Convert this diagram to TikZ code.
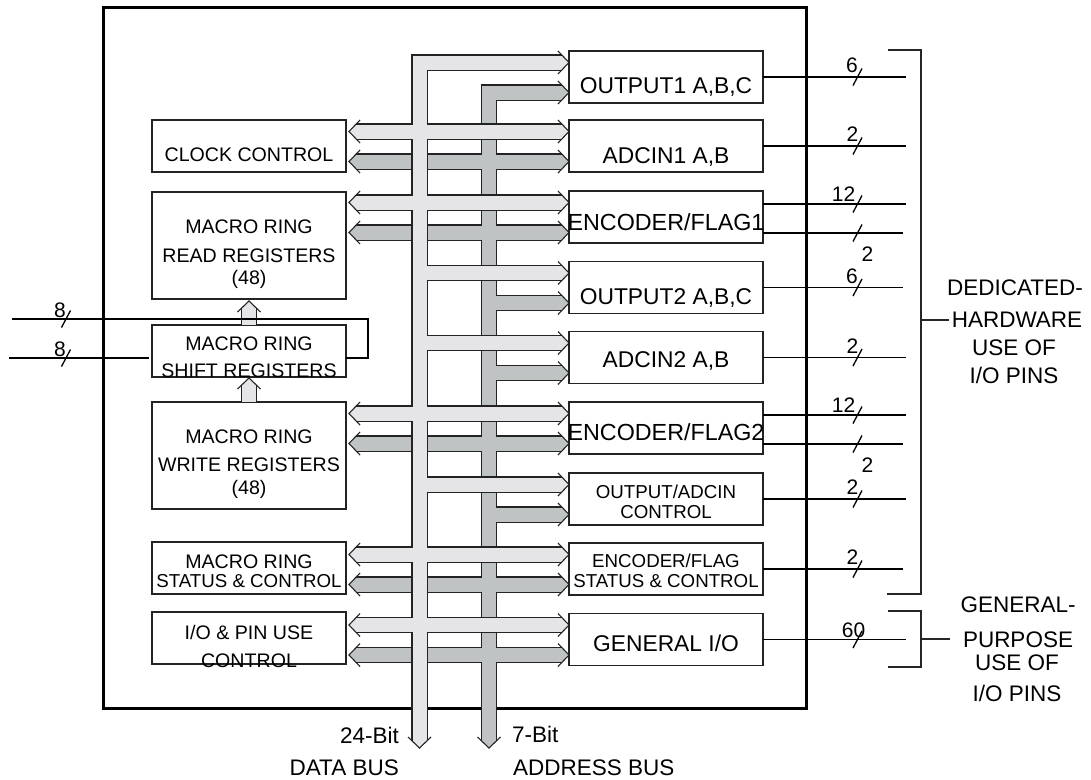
\documentclass[tikz,border=0pt]{standalone}
\usepackage{fontspec}
\setmainfont{Liberation Sans}
\usetikzlibrary{calc}
\definecolor{lightb}{RGB}{229,229,231}
\definecolor{darkb}{RGB}{191,195,195}
\definecolor{edgec}{RGB}{35,35,35}
\newcommand\fs[1]{\fontsize{#1}{#1}\selectfont}
\newcommand\ahead[3]{%
  \begin{scope}[shift={(#1)},#3]
    \fill[#2] (-6.9,-7.1) -- (0,0) -- (-6.9,7.1) -- cycle;
    \draw[headline] (-11,-11.5) -- (0,0) -- (-11,11.5);
  \end{scope}}
\newcommand\wmark[4]{%
  \draw[pinline] ($(#1)+(-4.5,8.5)$) -- ($(#1)+(4.5,-8.5)$);
  \node[num] (#4) at ($(#1)+#3$) {#2};}
\begin{document}
\begin{tikzpicture}[x=1pt,y=-1pt,
  box/.style={draw=edgec, line width=1.6, minimum width=194, minimum height=52, inner sep=0, outer sep=0},
  tallbox/.style={box, minimum height=107},
  frame/.style={draw=black, line width=3, minimum width=703, minimum height=701, inner sep=0, outer sep=0},
  lbl/.style={anchor=base, inner sep=0, font=\fs{19.6}},
  rlbl/.style={anchor=base, inner sep=0, font=\fs{22.8}},
  slbl/.style={anchor=base, inner sep=0, font=\fs{18.7}},
  num/.style={inner sep=0, font=\fs{21}},
  side/.style={anchor=base, inner sep=0, font=\fs{22.5}},
  lightbus/.style={draw=lightb, line width=14, line cap=butt, line join=miter,
     preaction={draw=edgec, line width=16.4, line cap=butt, line join=miter}},
  darkbus/.style={draw=darkb, line width=14, line cap=butt, line join=miter,
     preaction={draw=edgec, line width=16.4, line cap=butt, line join=miter}},
  headline/.style={draw=edgec, line width=1.1, line join=miter},
  pinline/.style={draw=black, line width=1.3},
  brk/.style={draw=black!85, line width=1.1}
]
\useasboundingbox (0,0) rectangle (1091,779);

% chip outline
\node[frame] (chip) at (454.5,357.5) {};

% right boxes
\node[box] (o1) at (666,77) {};
\node[box] (a1) at (666,146) {};
\node[box] (e1) at (666,217) {};
\node[box] (o2) at (666,287.5) {};
\node[box] (a2) at (666,357.5) {};
\node[box] (e2) at (666,428) {};
\node[box] (oc) at (666,499) {};
\node[box] (es) at (666,569) {};
\node[box] (gio) at (666,639.5) {};

% left boxes
\node[box] (clk) at (249,146) {};
\node[tallbox] (rd) at (249,245.5) {};
\node[box] (sh) at (249,351) {};
\node[tallbox] (wr) at (249,455.5) {};
\node[box] (mst) at (249,568) {};
\node[box] (iop) at (249,638) {};

% bus coordinates
\coordinate (dbus) at (419.5,748);
\coordinate (abus) at (489,748);
\foreach \n in {o1,a1,e1,o2,a2,e2,oc,es,gio}{
  \coordinate (\n L) at ($(\n.north west)+(0,11.5)$);
  \coordinate (\n D) at ($(\n.north west)+(0,41.5)$);
}
\foreach \l/\r in {clk/a1,rd/e1,wr/e2,mst/es,iop/gio}{
  \path (\l.east |- \r L) coordinate (\r Lx) (\l.east |- \r D) coordinate (\r Dx);
  \coordinate (\r Ll) at ($(\r Lx)+(3,0)$);
  \coordinate (\r Dl) at ($(\r Dx)+(3,0)$);
}

% address bus (dark)
\draw[darkbus]
  ($(abus)+(0,-6.9)$) -- (abus |- o1D) -- ($(o1D)+(-6.9,0)$)
  (abus |- o2D) -- ($(o2D)+(-6.9,0)$)
  (abus |- a2D) -- ($(a2D)+(-6.9,0)$)
  (abus |- ocD) -- ($(ocD)+(-6.9,0)$)
  ($(a1Dl)+(6.9,0)$) -- ($(a1D)+(-6.9,0)$)
  ($(e1Dl)+(6.9,0)$) -- ($(e1D)+(-6.9,0)$)
  ($(e2Dl)+(6.9,0)$) -- ($(e2D)+(-6.9,0)$)
  ($(esDl)+(6.9,0)$) -- ($(esD)+(-6.9,0)$)
  ($(gioDl)+(6.9,0)$) -- ($(gioD)+(-6.9,0)$);

% data bus (light)
\draw[lightbus]
  ($(dbus)+(0,-6.9)$) -- (dbus |- o1L) -- ($(o1L)+(-6.9,0)$)
  (dbus |- o2L) -- ($(o2L)+(-6.9,0)$)
  (dbus |- a2L) -- ($(a2L)+(-6.9,0)$)
  (dbus |- ocL) -- ($(ocL)+(-6.9,0)$)
  ($(a1Ll)+(6.9,0)$) -- ($(a1L)+(-6.9,0)$)
  ($(e1Ll)+(6.9,0)$) -- ($(e1L)+(-6.9,0)$)
  ($(e2Ll)+(6.9,0)$) -- ($(e2L)+(-6.9,0)$)
  ($(esLl)+(6.9,0)$) -- ($(esL)+(-6.9,0)$)
  ($(gioLl)+(6.9,0)$) -- ($(gioL)+(-6.9,0)$);

% arrow heads
\foreach \n in {o1,a1,e1,o2,a2,e2,oc,es,gio}{\ahead{\n L}{lightb}{}\ahead{\n D}{darkb}{}}
\foreach \r in {a1,e1,e2,es,gio}{\ahead{\r Ll}{lightb}{xscale=-1}\ahead{\r Dl}{darkb}{xscale=-1}}
\ahead{dbus}{lightb}{rotate=-90}
\ahead{abus}{darkb}{rotate=-90}

% small vertical arrows between left boxes
\coordinate (up1) at ($(rd.south)+(0,2)$);
\coordinate (up2) at ($(sh.south)+(0,1)$);
\draw[lightbus] (sh.north) -- ($(up1)+(0,6.9)$);
\draw[lightbus] (wr.north) -- ($(up2)+(0,6.9)$);
\ahead{up1}{lightb}{rotate=90}
\ahead{up2}{lightb}{rotate=90}

% left box texts
\node[lbl] (tclk) at (249,161) {CLOCK CONTROL};
\node[lbl] (trd1) at (249,233) {MACRO RING};
\node[lbl] (trd2) at (249,262) {READ REGISTERS};
\node[lbl] (trd3) at (249,284) {(48)};
\node[lbl] (tsh1) at (249,350) {MACRO RING};
\node[lbl] (tsh2) at (249,377) {SHIFT REGISTERS};
\node[lbl] (twr1) at (249,443) {MACRO RING};
\node[lbl] (twr2) at (249,471) {WRITE REGISTERS};
\node[lbl] (twr3) at (249,494) {(48)};
\node[lbl] (tms1) at (249,568) {MACRO RING};
\node[slbl] (tms2) at (249,587) {STATUS \& CONTROL};
\node[lbl] (tio1) at (249,639) {I/O \& PIN USE};
\node[lbl] (tio2) at (249,667) {CONTROL};

% right box texts
\node[rlbl] (to1) at (666,93) {OUTPUT1 A,B,C};
\node[rlbl] (ta1) at (666,163) {ADCIN1 A,B};
\node[rlbl, font=\fs{23.3}] (te1) at (666,230) {ENCODER/FLAG1};
\node[rlbl] (to2) at (666,304) {OUTPUT2 A,B,C};
\node[rlbl] (ta2) at (666,367) {ADCIN2 A,B};
\node[rlbl, font=\fs{23.3}] (te2) at (666,440) {ENCODER/FLAG2};
\node[slbl] (toc1) at (666,498) {OUTPUT/ADCIN};
\node[slbl] (toc2) at (666,518) {CONTROL};
\node[slbl] (tes1) at (666,567) {ENCODER/FLAG};
\node[slbl] (tes2) at (666,587) {STATUS \& CONTROL};
\node[rlbl] (tgio) at (666,651) {GENERAL I/O};

% pin lines
\coordinate (pinx) at (906,0);
\coordinate (pinxb) at (903,0);
\coordinate (slx) at (857.5,0);
\coordinate (e1a) at ($(e1.north east)+(0,13)$);
\coordinate (e1b) at ($(e1.north east)+(0,42)$);
\coordinate (e2a) at ($(e2.north east)+(0,13)$);
\coordinate (e2b) at ($(e2.north east)+(0,42)$);
\draw[pinline] (o1.east) -- (o1.east -| pinx);
\draw[pinline] (a1.east) -- (a1.east -| pinx);
\draw[pinline] (e1a) -- (e1a -| pinx);
\draw[pinline] (e1b) -- (e1b -| pinxb);
\draw[pinline] (o2.east) -- (o2.east -| pinxb);
\draw[pinline] (a2.east) -- (a2.east -| pinx);
\draw[pinline] (e2a) -- (e2a -| pinx);
\draw[pinline] (e2b) -- (e2b -| pinxb);
\draw[pinline] (oc.east) -- (oc.east -| pinx);
\draw[pinline] (es.east) -- (es.east -| pinxb);
\draw[pinline] (gio.east) -- (gio.east -| pinx);
\path (o1.east -| slx) coordinate (mo1) (a1.east -| slx) coordinate (ma1)
      (e1a -| slx) coordinate (me1a) (e1b -| slx) coordinate (me1b)
      (o2.east -| slx) coordinate (mo2) (a2.east -| slx) coordinate (ma2)
      (e2a -| slx) coordinate (me2a) (e2b -| slx) coordinate (me2b)
      (oc.east -| slx) coordinate (moc) (es.east -| slx) coordinate (mes)
      (gio.east -| slx) coordinate (mgio);
\wmark{mo1}{6}{(-5.5,-11.5)}{n1}
\wmark{ma1}{2}{(-5,-11.5)}{n2}
\wmark{me1a}{12}{(-14,-10)}{n3}
\wmark{me1b}{2}{(10,21.5)}{n4}
\wmark{mo2}{6}{(-5.5,-11.5)}{n5}
\wmark{ma2}{2}{(-5,-11.5)}{n6}
\wmark{me2a}{12}{(-14,-10)}{n7}
\wmark{me2b}{2}{(10,21.5)}{n8}
\wmark{moc}{2}{(-5,-11.5)}{n9}
\wmark{mes}{2}{(-5,-11.5)}{n10}
\wmark{mgio}{60}{(-4,-9.5)}{n11}

% left input lines
\coordinate (ll1) at (12,319);
\coordinate (ll2) at (9,358);
\coordinate (loopx) at (368,0);
\coordinate (sh7) at ($(sh.east)+(0,7)$);
\coordinate (shw) at ($(sh.west)+(-3,7)$);
\draw[pinline] (ll1) -- (ll1 -| loopx) -- (loopx |- sh7) -- (sh7);
\draw[pinline] (ll2) -- (shw);
\coordinate (m8a) at (66,319);
\coordinate (m8b) at (66,358);
\wmark{m8a}{8}{(-6,-9)}{n12}
\wmark{m8b}{8}{(-6,-9)}{n13}

% bus labels
\node[side, anchor=base east] (b24) at (399,743) {24-Bit};
\node[side, anchor=base east] (bdata) at (399,775) {DATA BUS};
\node[side, anchor=base west] (b7) at (512,742) {7-Bit};
\node[side, anchor=base west] (baddr) at (513,775) {ADDRESS BUS};

% brackets
\draw[brk] (888,50) -- (921,50) -- (921,594) -- (887,594);
\draw[brk] (921,320) -- (949,320);
\draw[brk] (888,611) -- (921,611) -- (921,667) -- (888,667);
\draw[brk] (921,639) -- (950,639);

% side texts
\node[side] (d1) at (1015,295) {DEDICATED-};
\node[side] (d2) at (1017,327) {HARDWARE};
\node[side] (d3) at (1014,355) {USE OF};
\node[side] (d4) at (1014,383) {I/O PINS};
\node[side] (g1) at (1018,612) {GENERAL-};
\node[side] (g2) at (1018,647) {PURPOSE};
\node[side] (g3) at (1017,670) {USE OF};
\node[side] (g4) at (1017,701) {I/O PINS};
\end{tikzpicture}
\end{document}
